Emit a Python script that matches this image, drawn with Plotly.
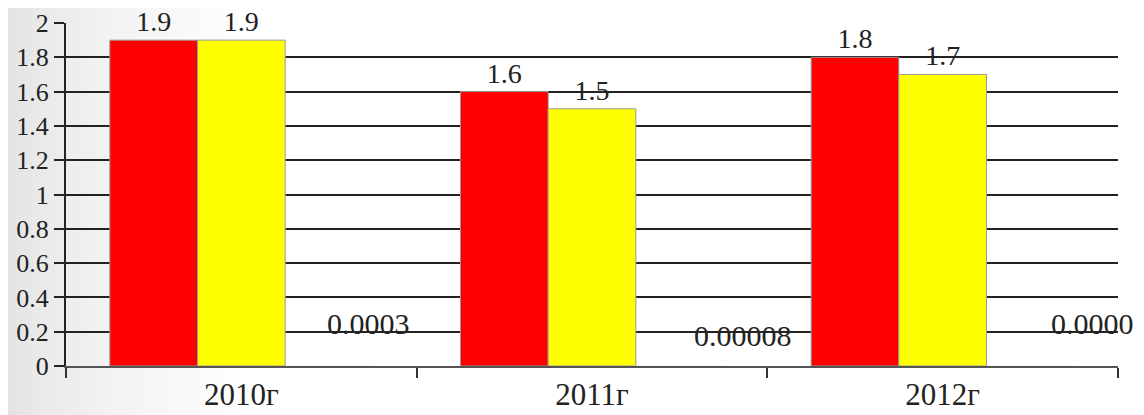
import plotly.graph_objects as go

categories = ["2010г", "2011г", "2012г"]
series_red = [1.9, 1.6, 1.8]
series_yellow = [1.9, 1.5, 1.7]
series_small = [0.0003, 0.00008, 0.0000]
small_labels = ["0.0003", "0.00008", "0.0000"]
y_ticks = [0, 0.2, 0.4, 0.6, 0.8, 1, 1.2, 1.4, 1.6, 1.8, 2]
y_tick_labels = ["0", "0.2", "0.4", "0.6", "0.8", "1", "1.2", "1.4", "1.6", "1.8", "2"]

# label placement (style only)
small_label_xshift = [127, 151, 150]
small_label_y = [0.25, 0.175, 0.25]

FONT = "Liberation Serif"
TXT = "#222222"

# page has an 8px body margin, so the figure is sized to fit the window
W, H = 1136, 407
ML, MR, MT, MB = 58, 26, 15, 49
PW, PH = W - ML - MR, H - MT - MB

fig = go.Figure()
fig.add_trace(go.Bar(
    x=categories, y=series_red, marker=dict(color="#ff0000", line=dict(color="#999999", width=1)),
    text=[f"{v:.1f}" for v in series_red], textposition="outside", cliponaxis=False,
    textfont=dict(family=FONT, size=28, color=TXT), showlegend=False,
))
fig.add_trace(go.Bar(
    x=categories, y=series_yellow, marker=dict(color="#ffff00", line=dict(color="#999999", width=1)),
    text=[f"{v:.1f}" for v in series_yellow], textposition="outside", cliponaxis=False,
    textfont=dict(family=FONT, size=28, color=TXT), showlegend=False,
))
fig.add_trace(go.Bar(
    x=categories, y=series_small, marker=dict(color="#4f81bd"), showlegend=False,
))

for c, lab, xs, yy in zip(categories, small_labels, small_label_xshift, small_label_y):
    fig.add_annotation(x=c, y=yy, text=lab, showarrow=False, xshift=xs,
                       xanchor="center", yanchor="middle",
                       font=dict(family=FONT, size=30, color=TXT))

# slide background gradient on the left
n = 30
for i in range(n):
    x0 = i * 8 - 8
    x1 = x0 + 8
    shade = int(226 + (255 - 226) * (i / n) ** 0.7)
    col = f"rgb({shade},{shade},{shade})"
    fig.add_shape(type="rect", xref="paper", yref="paper",
                  x0=(x0 - ML) / PW, x1=(x1 - ML) / PW, y0=-MB / PH, y1=1 + MT / PH,
                  fillcolor=col, line=dict(width=0), layer="below")

fig.update_layout(
    width=W, height=H,
    margin=dict(l=ML, r=MR, t=MT, b=MB, autoexpand=False),
    paper_bgcolor="white", plot_bgcolor="rgba(0,0,0,0)",
    barmode="group", bargap=0.25, bargroupgap=0,
    font=dict(family=FONT, size=26, color=TXT),
)
fig.update_xaxes(
    type="category", range=[-0.5, len(categories) - 0.5],
    showgrid=False, showline=True, linecolor="#555555", linewidth=2,
    ticks="outside", tickson="boundaries", ticklen=10, tickwidth=2, tickcolor="#333333",
    tickfont=dict(family=FONT, size=31, color=TXT), automargin=False,
)
fig.update_yaxes(
    range=[0, 2], tickvals=y_ticks, ticktext=y_tick_labels,
    showgrid=True, gridcolor="#222222", gridwidth=2, zeroline=False,
    showline=True, linecolor="#222222", linewidth=2,
    ticks="outside", ticklen=10, tickwidth=2, tickcolor="#222222",
    tickfont=dict(family=FONT, size=26, color=TXT), automargin=False,
)

fig.write_html("out.html")
